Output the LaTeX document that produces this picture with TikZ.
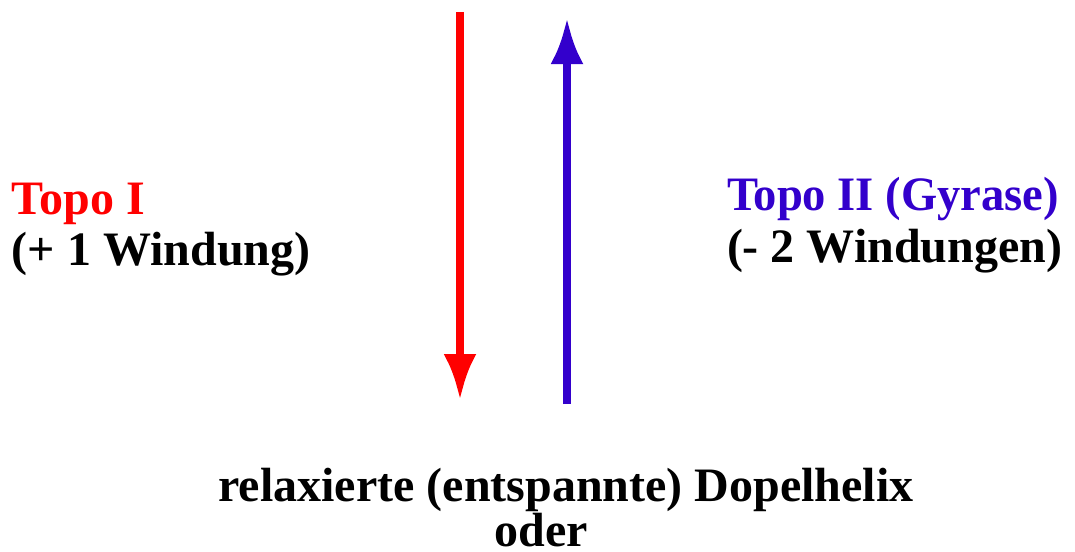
\documentclass[tikz,border=0pt]{standalone}
\usepackage{fontspec}
\setmainfont{Liberation Serif}
\usetikzlibrary{arrows.meta}
\definecolor{topored}{HTML}{FF0000}
\definecolor{topoblue}{HTML}{3300CC}
\tikzset{
  lbl/.style={inner sep=0pt, outer sep=0pt, font=\fontsize{48}{48}\selectfont\bfseries},
  bigarrow/.style={line width=8pt, -{Latex[length=46pt,width=33pt]}}
}
\begin{document}
\begin{tikzpicture}[x=1pt,y=-1pt]
\useasboundingbox (0,0) rectangle (1075,551);
\coordinate (rs) at (460,12);
\coordinate (re) at (460,400);
\coordinate (bs) at (567,404);
\coordinate (be) at (567,18);
\draw[bigarrow, topored] (rs) -- (re);
\draw[bigarrow, topoblue] (bs) -- (be);
\node[lbl, anchor=base west, text=topored] (t1) at (12,214) {Topo I};
\node[lbl, anchor=base west] (t1b) at (12,265) {(+ 1 Windung)};
\node[lbl, anchor=base west, text=topoblue, xscale=0.97] (t2) at (727,210) {Topo II (Gyrase)};
\node[lbl, anchor=base west] (t2b) at (727,262) {(- 2 Windungen)};
\node[lbl, anchor=base] (b1) at (566,501) {relaxierte (entspannte) Dopelhelix};
\node[lbl, anchor=base] (b2) at (541,546) {oder};
\end{tikzpicture}
\end{document}
